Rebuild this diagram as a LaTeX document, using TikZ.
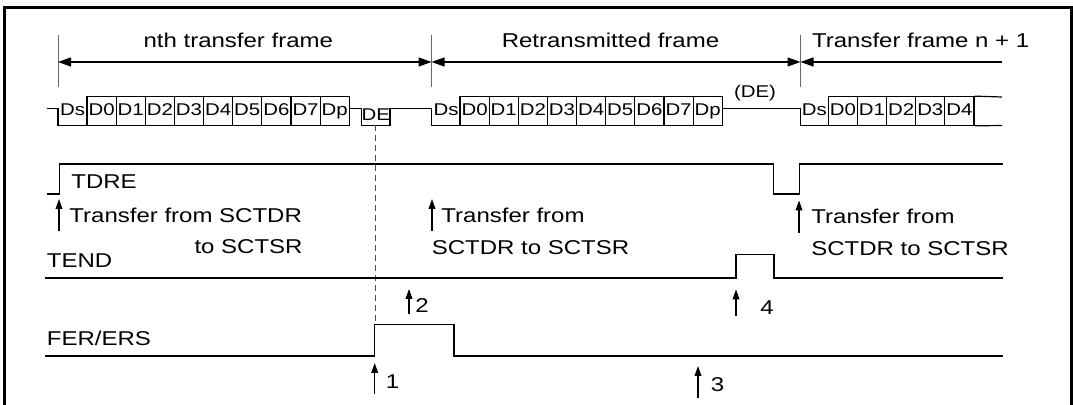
\documentclass[tikz,border=0pt]{standalone}
\usepackage{fontspec}
\setmainfont{Liberation Sans}[FakeStretch=1.2]
\usetikzlibrary{arrows.meta}

\begin{document}
\begin{tikzpicture}[
  x=0.5pt, y=-0.5pt,
  border/.style={line width=1.5pt, black},
  sig/.style={line width=0.6pt, black},
  tick/.style={line width=0.45pt, black!60},
  dim/.style={line width=0.6pt, black,
              {Triangle[length=6.5pt, width=4.5pt]}-{Triangle[length=6.5pt, width=4.5pt]}},
  diml/.style={line width=0.6pt, black, {Triangle[length=6.5pt, width=4.5pt]}-},
  evt/.style={line width=0.55pt, black, -{Triangle[length=5pt, width=3.4pt]}},
  errline/.style={line width=0.45pt, black!70, dash pattern=on 3pt off 2pt},
  lbl/.style={font=\fontsize{10}{12}\selectfont, inner sep=0pt, anchor=base west},
  bit/.style={font=\fontsize{8.5}{10}\selectfont, inner sep=0pt,
              text height=6.1pt, text depth=2pt},
  cell/.style={bit, draw, line width=0.6pt, minimum width=14.57pt,
               minimum height=14.25pt},
]
\def\cw{29.14}  % width of one bit cell (px)
\useasboundingbox (0,0) rectangle (1073,405);
% outer frame (open at the bottom)
\draw[border] (4.5,405) -- (4.5,7.5) -- (1071,7.5) -- (1071,405);
% frame dimension lines
\coordinate (t0) at (58,62);
\coordinate (t1) at (431.5,62);
\coordinate (t2) at (800.5,62);
\coordinate (t3) at (1002,62);
\foreach \t in {t0,t1,t2}
  \draw[tick] ([yshift=13.5pt]\t) -- ([yshift=-12.5pt]\t);
\draw[dim] (t0) -- (t1);
\draw[dim] (t1) -- (t2);
\draw[diml] (t2) -- (t3);
\node[lbl, anchor=base] (fn) at (238.3,48) {nth transfer frame};
\node[lbl, anchor=base] (fr) at (610.5,48) {Retransmitted frame};
\node[lbl] (fn1) at (811.7,48) {Transfer frame n + 1};
% nth frame
\draw[sig] (47,108.5) -| (58,125.5) -- (87,125.5);
\node[bit] (f1s) at (72.5,111) {Ds};
\foreach \c [count=\k from 0] in {0,1,2,3,4,5,6,7,p}
  \node[cell] (f1c\c) at (87+\cw*\k+\cw/2,111) {D\c};
\draw[sig] (349.3,108.5) -| (361.5,125.5) -| (390,108.5) -| (431.5,125.5) -- (460,125.5);
\node[bit] (f1de) at (375.7,116) {DE};
% retransmitted frame
\node[bit] (f2s) at (446,111) {Ds};
\foreach \c [count=\k from 0] in {0,1,2,3,4,5,6,7,p}
  \node[cell] (f2c\c) at (460+\cw*\k+\cw/2,111) {D\c};
\draw[sig] (722.3,108.5) -| (800.5,125.5) -- (828.3,125.5);
\node[bit, anchor=base] (f2de) at (755,98) {(DE)};
% frame n + 1
\node[bit] (f3s) at (814.4,111) {Ds};
\foreach \c [count=\k from 0] in {0,1,2,3,4}
  \node[cell] (f3c\c) at (828.3+\cw*\k+\cw/2,111) {D\c};
\draw[sig] (f3c4.north east) -- (1002,97);
\draw[sig] (f3c4.south east) -- (1002,125.5);
% error point
\draw[errline] (375,125.5) -- (375,324.5);
% TDRE
\draw[sig] (46.5,194) -| (59.5,164) -| (773.5,194) -| (799.5,164) -- (1002.5,164);
\node[lbl] (tdre) at (71,188.5) {TDRE};
\node[lbl] (tx0) at (69,223) {Transfer from SCTDR};
\node[lbl, anchor=base east] (tx0b) at (303,254) {to SCTSR};
\node[lbl] (tx1) at (441,223) {Transfer from};
\node[lbl] (tx1b) at (431.5,254.5) {SCTDR to SCTSR};
\node[lbl] (tx2) at (811,223.5) {Transfer from};
\node[lbl] (tx2b) at (811,255.5) {SCTDR to SCTSR};
% TEND
\draw[sig] (45,278) -| (736,254.5) -| (774,278) -- (1002.5,278);
\node[lbl] (tend) at (46.5,267.5) {TEND};
% FER/ERS
\draw[sig] (45,356) -| (374.7,324.5) -| (454,356) -- (1002.5,356);
\node[lbl] (fer) at (46.5,345.5) {FER/ERS};
% event arrows
\foreach \n/\x/\ya/\yb in {x0/59/231/199, x1/432/231/199, x2/799/233/200.5,
    e1/374.7/394/363, e2/409/314/289, e3/698/398/366, e4/736/316/289.5} {
  \coordinate (\n-a) at (\x,\ya);
  \coordinate (\n-b) at (\x,\yb);
  \draw[evt] (\n-a) -- (\n-b);
}
\node[lbl] (n1) at (385.5,389) {1};
\node[lbl] (n2) at (415,313) {2};
\node[lbl] (n3) at (710.5,391.5) {3};
\node[lbl] (n4) at (760,315) {4};
\end{tikzpicture}
\end{document}
